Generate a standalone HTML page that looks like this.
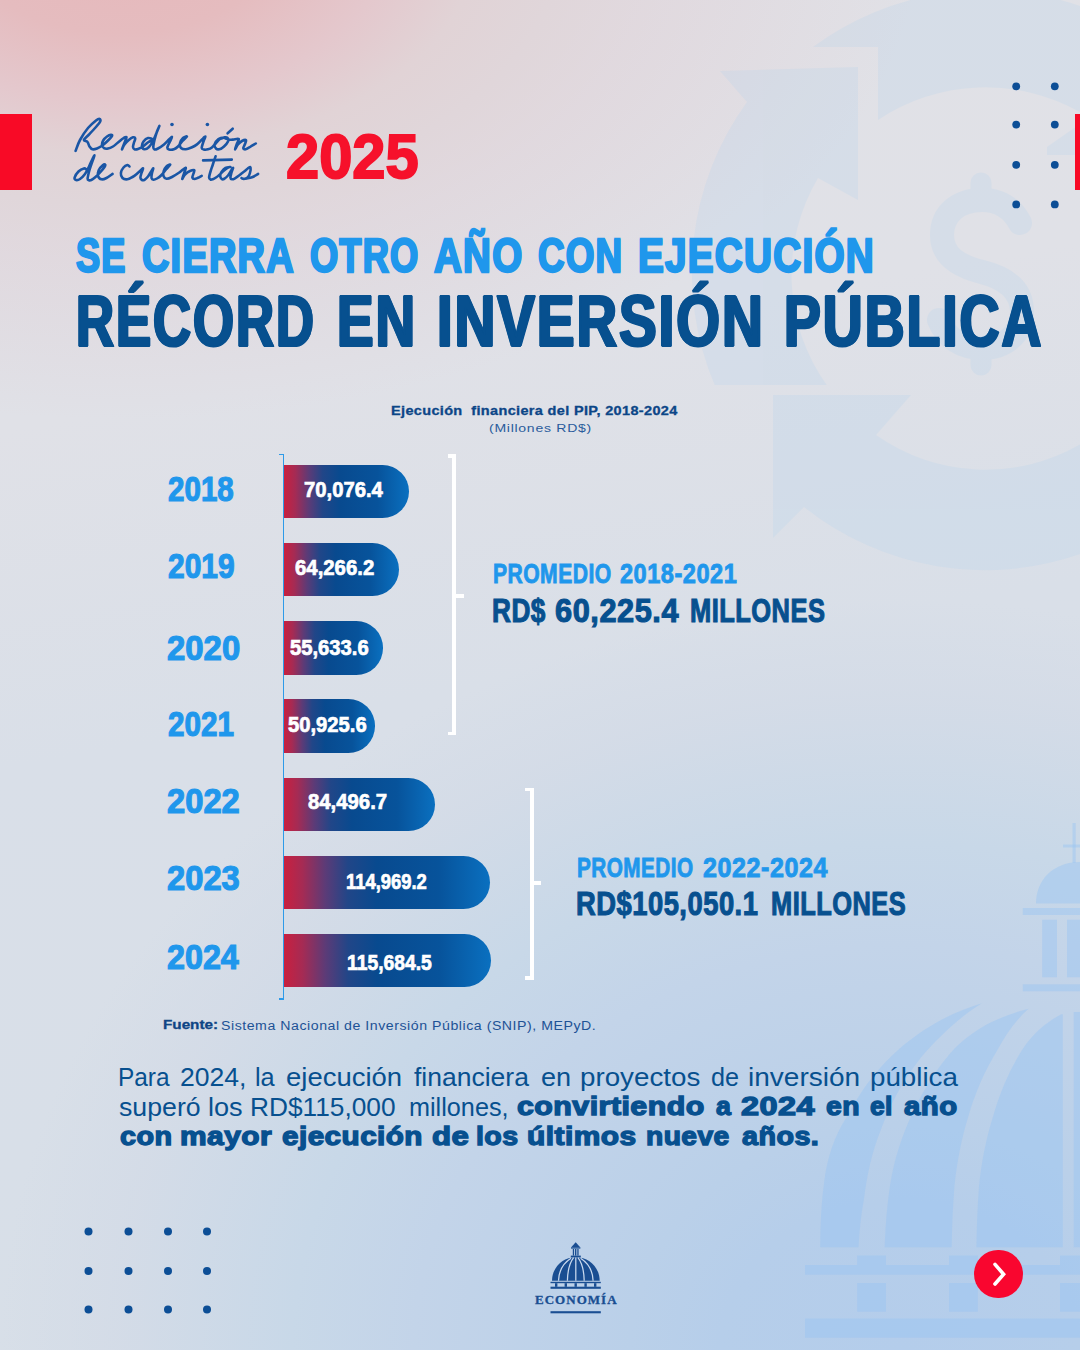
<!DOCTYPE html>
<html lang="es">
<head>
<meta charset="utf-8">
<title>Rendición de cuentas 2025</title>
<style>
html,body{margin:0;padding:0;font-family:"Liberation Sans",sans-serif;}
body{width:1080px;height:1350px;overflow:hidden;font-family:"Liberation Sans",sans-serif;}
#page{position:relative;width:1080px;height:1350px;overflow:hidden;
  background:
    radial-gradient(ellipse 800px 480px at 120px -60px, #e6b8bb 0%, #e5bcbf 19.5%, #e4c8cd 33.6%, #e1d3d6 44.6%, #e0d6da 55.1%, rgba(224,185,191,.2) 67.2%, rgba(224,185,191,.05) 91.7%, rgba(224,185,191,0) 100%),
    radial-gradient(ellipse 900px 750px at 900px 1350px, #b4cdeb 0%, #b6ceea 20%, #bad0e9 30%, #c3d4e9 54%, #c8d8e8 67.5%, rgba(211,219,231,.85) 87%, rgba(216,223,232,0) 100%),
    linear-gradient(170deg,#e1e1e6 0%,#e0e1e7 28%,#d9dfe8 50%,#d7dfe8 100%);
}
.t{position:absolute;white-space:pre;line-height:1;transform-origin:0 0;}
.bar{position:absolute;background:linear-gradient(90deg,#c9203f 0%,#a52b54 9%,#5c3b77 20%,#214688 31%,#084a8f 45%,#07539b 75%,#0a70c0 100%);}
.dot{position:absolute;width:8px;height:8px;border-radius:50%;background:#0d4c92;display:block;}
.red{position:absolute;background:#f80a26;}
.w{position:absolute;background:#fff;}
svg{position:absolute;left:0;top:0;}
</style>
</head>
<body>
<div id="page">

<!-- background watermarks -->
<svg width="1080" height="1350" viewBox="0 0 1080 1350">
  <!-- circular arrows + $ (top right) -->
  <g opacity=".16">
    <g fill="rgb(160,205,240)">
    <path d="M 714.7 385 A 290 290 0 0 1 747 102 L 720 71 L 858 67 L 858 200 L 818 178 A 190 190 0 0 0 826.7 385 Z"/>
    <path d="M 813 47 A 290 290 0 0 1 1080 6 L 1080 112 A 193 193 0 0 0 878 120 L 878 47 Z"/>
    <path d="M 1080 124 L 1047 147 L 1047 155 L 1080 155 Z"/>
    <path d="M 773 395 L 911 395 L 876 435 A 190 190 0 0 0 1080 444.5 L 1080 554 A 290 290 0 0 1 804 507 L 773 538 Z"/>
    </g>
    <g fill="none" stroke="rgb(160,205,240)" stroke-linecap="round" stroke-linejoin="round">
      <path d="M 1020 223 C 1012 208 999 200 982 200 C 958 200 942 214 942 235 C 942 256 958 266 982 272 C 1006 278 1022 290 1022 312 C 1022 334 1005 348 982 348 C 962 348 946 338 939 320" stroke-width="24"/>
    </g>
    <path d="M 981 183 L 981 200 M 981 348 L 981 365" fill="none" stroke="rgb(160,205,240)" stroke-width="21" stroke-linecap="round"/>
  </g>
  <!-- dome (bottom right) -->
  <g fill="rgba(150,196,242,.42)">
    <rect x="1072.5" y="823" width="3.2" height="40"/>
    <rect x="1063" y="844.5" width="17" height="3"/>
    <path d="M 1036 903.5 C 1036 880 1053 862 1080 862 L 1080 903.5 Z"/>
    <rect x="1022.8" y="908" width="57.2" height="7"/>
    <rect x="1042.2" y="919.7" width="14.8" height="57.6"/>
    <rect x="1067" y="919.7" width="13" height="57.6"/>
    <rect x="1022.8" y="984.3" width="57.2" height="7"/>
    <!-- main dome segments -->
    <path d="M 820.2 1247.3 C 820.5 1215 822 1195 825.6 1172 C 830 1148 838 1130 850 1111.6 C 864 1085 880 1066 899.6 1048.5 C 925 1027 950 1013 981.9 1003.3 C 958 1018 938 1038 921.6 1056.8 C 903 1080 890 1105 880.5 1130.8 C 872 1152 867 1175 864 1199 C 861 1215 859.5 1230 858.5 1247.3 Z"/>
    <path d="M 884.6 1247.3 C 885.5 1225 887 1205 890 1185.6 C 894 1160 902 1135 913.4 1111.6 C 924 1088 938 1067 954.5 1048.5 C 975 1028 1000 1016 1028.5 1008.8 C 1016 1020 1006 1034 998.3 1048.5 C 985 1070 975 1093 968.2 1117 C 961 1140 957 1163 954.5 1185.6 C 953 1205 952 1225 951.7 1247.3 Z"/>
    <path d="M 976.4 1247.3 C 976.8 1225 977.5 1205 979.1 1185.6 C 981.5 1162 986 1139 992.9 1117 C 1000 1092 1010 1069 1023 1048.5 C 1033 1034 1046 1022 1061.4 1014.3 L 1062.8 1014.3 L 1062.8 1247.3 Z"/>
    <rect x="1073.7" y="1012" width="6.3" height="235.3"/>
    <!-- base -->
    <rect x="857.2" y="1255.5" width="28.8" height="9.5"/>
    <rect x="949" y="1255.5" width="28.8" height="9.5"/>
    <rect x="1060" y="1255.5" width="20" height="9.5"/>
    <rect x="805" y="1265" width="275" height="9.7"/>
    <rect x="857.2" y="1283" width="28.8" height="28.7"/>
    <rect x="949" y="1283" width="28.8" height="28.7"/>
    <rect x="1060" y="1283" width="20" height="28.7"/>
    <rect x="805" y="1318.5" width="275" height="19.2"/>
  </g>
</svg>

<!-- red accents -->
<div class="red" style="left:0;top:114px;width:32px;height:76px"></div>
<div class="red" style="left:1075px;top:114px;width:5px;height:76px"></div>

<!-- axis -->
<div style="position:absolute;left:282.6px;top:453.5px;width:1.5px;height:546px;background:#2e9ae8"></div>
<div style="position:absolute;left:278.5px;top:453.5px;width:5px;height:1.3px;background:#2e9ae8"></div>
<div style="position:absolute;left:278.5px;top:998.3px;width:5px;height:1.3px;background:#2e9ae8"></div>

<div class="bar" style="left:284px;top:465.2px;width:125.3px;height:52.8px;border-radius:0 26.4px 26.4px 0"></div>
<div class="bar" style="left:284px;top:543.0px;width:115.0px;height:53.0px;border-radius:0 26.5px 26.5px 0"></div>
<div class="bar" style="left:284px;top:621.3px;width:98.6px;height:53.4px;border-radius:0 26.7px 26.7px 0"></div>
<div class="bar" style="left:284px;top:699.3px;width:90.6px;height:53.3px;border-radius:0 26.7px 26.7px 0"></div>
<div class="bar" style="left:284px;top:777.7px;width:151.0px;height:53.3px;border-radius:0 26.6px 26.6px 0"></div>
<div class="bar" style="left:284px;top:856.0px;width:206.0px;height:53.0px;border-radius:0 26.5px 26.5px 0"></div>
<div class="bar" style="left:284px;top:934.0px;width:207.0px;height:53.3px;border-radius:0 26.6px 26.6px 0"></div>

<!-- brackets -->
<div class="w" style="left:451.5px;top:454.2px;width:4px;height:281px"></div>
<div class="w" style="left:448px;top:454.2px;width:6px;height:3.6px"></div>
<div class="w" style="left:448px;top:731.6px;width:6px;height:3.6px"></div>
<div class="w" style="left:453px;top:594px;width:11px;height:4px"></div>

<div class="w" style="left:529.5px;top:787.5px;width:4px;height:192.5px"></div>
<div class="w" style="left:525px;top:787.5px;width:6px;height:3.6px"></div>
<div class="w" style="left:525px;top:976.4px;width:6px;height:3.6px"></div>
<div class="w" style="left:531px;top:880.8px;width:9.5px;height:4px"></div>

<svg width="1080" height="1350" viewBox="0 0 1080 1350"><g fill="none" stroke="#1a56a5" stroke-width="2.6" stroke-linecap="round" stroke-linejoin="round"><path d="M 75.6 150.9 C 76.3 149.1 77.9 143.8 80.0 140.0 C 82.1 136.2 85.3 131.2 88.0 128.0 C 90.7 124.8 94.1 122.0 96.0 120.5 C 97.9 119.0 98.9 118.7 99.6 118.9 C 100.3 119.1 100.8 120.2 100.2 121.5 C 99.6 122.8 97.9 124.8 96.0 127.0 C 94.1 129.2 91.0 132.4 89.0 134.5 C 87.0 136.6 84.2 138.6 83.9 139.8 C 83.7 141.1 86.6 140.9 87.5 142.0 C 88.4 143.1 88.7 145.3 89.5 146.5 C 90.3 147.7 91.2 149.0 92.5 149.3 C 93.8 149.6 95.2 149.2 97.0 148.5 C 98.8 147.8 101.1 146.4 103.0 145.0 C 104.9 143.6 107.0 141.5 108.5 140.0 C 110.0 138.5 111.6 136.9 112.0 136.0 C 112.4 135.1 111.8 134.7 111.0 134.8 C 110.2 134.9 108.3 135.6 107.0 136.5 C 105.7 137.4 104.0 139.1 103.2 140.5 C 102.4 141.9 101.9 143.7 102.0 145.0 C 102.1 146.3 103.0 147.6 104.0 148.2 C 105.0 148.8 106.5 148.9 108.0 148.6 C 109.5 148.3 111.3 147.5 113.0 146.5 C 114.7 145.5 116.3 143.8 118.0 142.5 C 119.7 141.2 121.6 139.4 123.0 138.5 C 124.4 137.6 126.2 136.7 126.5 137.2 C 126.8 137.7 125.8 139.5 125.0 141.5 C 124.2 143.5 122.1 148.8 122.0 149.3 C 121.9 149.8 123.4 146.0 124.5 144.5 C 125.6 143.0 127.1 141.5 128.5 140.3 C 129.9 139.1 131.9 137.6 133.0 137.3 C 134.1 137.0 135.0 137.6 135.2 138.5 C 135.4 139.4 134.4 141.1 134.0 142.5 C 133.6 143.9 132.9 145.9 133.0 147.0 C 133.1 148.1 133.7 149.0 134.5 149.3 C 135.3 149.6 136.6 149.5 138.0 149.0 C 139.4 148.5 141.2 147.7 143.0 146.5 C 144.8 145.3 146.8 143.2 148.5 142.0 C 150.2 140.8 153.1 140.2 153.0 139.5 C 152.9 138.8 149.6 137.7 148.0 138.0 C 146.4 138.3 144.5 140.1 143.5 141.5 C 142.5 142.9 141.8 145.2 142.0 146.5 C 142.2 147.8 143.3 149.2 144.5 149.3 C 145.7 149.4 147.6 148.4 149.0 147.0 C 150.4 145.6 151.8 143.3 153.0 141.0 C 154.2 138.7 155.4 135.5 156.5 133.0 C 157.6 130.5 159.3 126.2 159.4 125.9 C 159.5 125.7 157.8 129.2 157.0 131.5 C 156.2 133.8 155.1 137.4 154.5 140.0 C 153.9 142.6 153.3 145.4 153.3 147.0 C 153.3 148.6 153.7 149.2 154.5 149.5 C 155.3 149.8 156.4 149.3 158.0 148.5 C 159.6 147.7 162.2 146.0 164.0 144.5 C 165.8 143.0 167.7 140.8 169.0 139.5 C 170.3 138.2 171.8 136.7 172.0 137.0 C 172.2 137.3 170.8 139.8 170.0 141.5 C 169.2 143.2 167.6 145.9 167.4 147.2 C 167.2 148.5 167.9 149.2 169.0 149.5 C 170.1 149.8 172.4 149.8 173.9 149.3 C 175.4 148.8 176.6 147.9 178.0 146.5 C 179.4 145.1 181.0 142.7 182.5 141.0 C 184.0 139.3 186.8 137.0 186.9 136.5 C 187.0 136.0 184.2 136.8 183.0 138.0 C 181.8 139.2 180.2 141.8 179.9 143.5 C 179.6 145.2 180.0 147.0 181.0 148.0 C 182.0 149.0 184.2 149.4 185.9 149.3 C 187.7 149.2 189.7 148.3 191.5 147.5 C 193.3 146.7 195.3 145.7 197.0 144.4 C 198.7 143.2 200.1 141.3 201.5 140.0 C 202.9 138.7 205.1 136.2 205.4 136.5 C 205.7 136.8 204.1 139.6 203.5 141.5 C 202.9 143.4 201.6 146.7 201.7 148.0 C 201.8 149.3 202.9 149.4 204.0 149.6 C 205.1 149.8 206.7 149.7 208.0 149.3 C 209.3 149.0 210.6 148.6 211.9 147.5 C 213.2 146.4 214.7 144.4 216.0 143.0 C 217.3 141.6 218.7 139.9 220.0 139.0 C 221.3 138.1 224.2 137.5 223.9 137.5 C 223.7 137.5 220.1 137.8 218.5 139.0 C 216.9 140.2 215.0 142.8 214.6 144.4 C 214.2 146.0 215.2 147.7 216.0 148.5 C 216.8 149.3 218.0 149.6 219.3 149.3 C 220.6 149.0 222.6 147.8 224.0 146.5 C 225.4 145.2 227.4 142.9 228.0 141.5 C 228.6 140.1 228.2 138.7 227.5 138.0 C 226.8 137.3 223.7 137.2 223.9 137.5 C 224.2 137.8 227.5 139.2 229.0 139.5 C 230.5 139.8 231.4 139.7 233.0 139.6 C 234.6 139.5 238.0 138.2 238.7 138.9 C 239.4 139.6 237.6 141.8 237.0 143.5 C 236.4 145.2 234.8 149.1 235.0 149.3 C 235.2 149.5 236.8 145.9 238.0 144.5 C 239.2 143.1 240.7 141.7 242.0 141.0 C 243.3 140.3 245.5 139.7 246.0 140.2 C 246.5 140.7 245.4 142.7 245.0 144.0 C 244.6 145.3 243.2 147.1 243.3 148.0 C 243.4 148.9 244.4 149.5 245.5 149.3 C 246.6 149.1 248.3 148.0 250.0 147.0 C 251.7 146.0 254.8 144.1 255.8 143.5"/><path d="M 86.5 169.5 C 86.1 169.3 85.2 168.1 83.9 168.4 C 82.6 168.7 80.0 170.0 78.5 171.5 C 77.0 173.0 75.0 176.2 74.6 177.6 C 74.2 179.0 75.1 179.8 76.0 180.0 C 76.9 180.2 78.5 180.0 80.0 179.0 C 81.5 178.0 83.5 176.1 85.0 174.0 C 86.5 171.9 87.8 168.8 89.0 166.5 C 90.2 164.2 91.1 161.8 92.0 160.0 C 92.9 158.2 94.4 155.2 94.5 155.4 C 94.6 155.6 93.3 158.6 92.5 161.0 C 91.7 163.4 90.3 167.1 89.5 170.0 C 88.7 172.9 87.7 176.9 87.6 178.6 C 87.5 180.3 88.4 180.0 89.0 180.2 C 89.6 180.4 90.2 180.5 91.3 180.0 C 92.4 179.5 94.0 178.3 95.5 177.0 C 97.0 175.7 99.0 173.7 100.5 172.0 C 102.0 170.3 103.7 168.2 104.5 167.0 C 105.3 165.8 105.5 164.9 105.2 164.7 C 104.9 164.4 103.6 164.6 102.5 165.5 C 101.4 166.4 99.5 168.4 98.7 170.2 C 98.0 171.9 97.5 174.5 98.0 176.0 C 98.5 177.5 100.1 179.0 101.5 179.3 C 102.9 179.6 104.7 178.9 106.5 178.0 C 108.3 177.1 111.6 174.6 112.6 173.9"/><path d="M 129.5 166.5 C 129.2 166.3 128.4 164.9 127.4 165.1 C 126.4 165.3 124.6 166.2 123.5 167.5 C 122.4 168.8 121.1 171.2 120.9 173.0 C 120.7 174.8 121.4 176.9 122.5 178.0 C 123.6 179.1 125.7 179.5 127.4 179.3 C 129.1 179.1 130.9 177.9 132.5 177.0 C 134.1 176.1 135.4 175.0 136.7 173.9 C 138.0 172.8 139.4 171.4 140.5 170.5 C 141.6 169.6 142.9 168.0 143.1 168.4 C 143.3 168.8 141.9 171.5 141.5 173.0 C 141.1 174.5 140.3 176.4 140.4 177.6 C 140.5 178.8 141.3 179.6 142.0 180.0 C 142.7 180.4 143.5 180.4 144.5 179.8 C 145.5 179.2 146.8 178.0 148.0 176.5 C 149.2 175.0 150.6 172.3 151.5 171.0 C 152.4 169.7 153.2 168.1 153.3 168.4 C 153.4 168.7 152.3 171.4 152.0 173.0 C 151.7 174.6 151.2 176.9 151.5 178.0 C 151.8 179.1 152.6 179.7 153.5 179.8 C 154.4 179.9 155.8 179.2 157.0 178.5 C 158.2 177.8 159.5 177.0 161.0 175.5 C 162.5 174.0 164.5 171.3 166.0 169.5 C 167.5 167.7 170.1 165.2 170.2 164.7 C 170.3 164.2 167.6 165.4 166.5 166.5 C 165.4 167.6 164.2 169.5 163.7 171.1 C 163.2 172.7 163.0 174.7 163.5 176.0 C 164.0 177.3 165.1 178.6 166.5 178.8 C 167.9 179.0 170.0 178.0 172.0 177.0 C 174.0 176.0 176.7 174.2 178.5 173.0 C 180.3 171.8 181.8 170.3 183.0 169.5 C 184.2 168.7 185.7 167.5 185.9 167.9 C 186.2 168.3 185.1 170.2 184.5 172.0 C 183.9 173.8 182.1 178.6 182.2 179.0 C 182.3 179.4 183.7 175.8 185.0 174.5 C 186.3 173.2 188.4 171.7 190.0 171.0 C 191.6 170.3 193.7 169.8 194.3 170.2 C 194.9 170.6 193.8 172.3 193.5 173.5 C 193.2 174.7 192.2 176.7 192.4 177.6 C 192.6 178.5 193.6 179.0 194.5 179.0 C 195.4 179.0 196.8 178.3 198.0 177.8 C 199.2 177.3 201.1 176.1 201.7 175.8"/><path d="M 215.6 156.3 C 215.2 157.6 213.8 161.5 213.0 164.0 C 212.2 166.5 211.2 169.2 210.5 171.5 C 209.8 173.8 209.1 176.3 209.1 177.6 C 209.1 178.9 209.9 179.2 210.5 179.5 C 211.1 179.8 211.9 179.5 212.8 179.2 C 213.7 178.9 214.9 178.2 216.0 177.5 C 217.1 176.8 218.0 176.1 219.3 174.9 C 220.6 173.7 222.6 171.7 224.0 170.5 C 225.4 169.3 226.9 168.1 228.0 167.5 C 229.1 166.9 230.8 166.9 230.4 167.0 C 230.0 167.1 227.0 167.2 225.5 168.0 C 224.0 168.8 222.4 170.7 221.5 172.0 C 220.6 173.3 220.2 174.7 220.2 175.8 C 220.2 176.9 220.9 178.3 221.5 178.8 C 222.1 179.3 222.8 179.6 223.9 179.0 C 225.0 178.4 226.7 177.0 228.0 175.5 C 229.3 174.0 230.7 171.3 231.5 170.0 C 232.3 168.7 233.1 167.5 233.1 167.9 C 233.1 168.3 231.9 170.9 231.5 172.5 C 231.1 174.1 230.3 176.5 230.4 177.6 C 230.5 178.7 231.2 179.2 232.0 179.3 C 232.8 179.4 233.9 178.9 235.0 178.3 C 236.1 177.7 237.3 176.9 238.7 175.8 C 240.1 174.8 241.9 173.2 243.5 172.0 C 245.1 170.8 246.9 169.1 248.0 168.3 C 249.1 167.5 249.9 166.7 250.3 167.0 C 250.7 167.3 250.7 168.8 250.6 170.0 C 250.5 171.2 249.9 172.9 249.6 174.0 C 249.3 175.1 249.1 175.6 248.6 176.3 C 248.1 177.0 247.3 177.9 246.5 178.3 C 245.7 178.7 244.3 178.9 243.5 178.9 C 242.7 178.9 241.8 178.2 241.5 178.1"/><path d="M 246.5 178.3 C 247.4 178.1 250.1 178.0 252.0 177.3 C 253.9 176.6 257.1 174.5 258.1 173.9"/><path d="M 203.1 160.4 L 231.8 159.6"/><path d="M 227.6 133.3 L 232.7 128.7"/></g><circle cx="172" cy="124.5" r="1.8" fill="#1a56a5"/><circle cx="207.4" cy="124.5" r="1.8" fill="#1a56a5"/></svg>
<div class="t" style="left:285.65px;top:124.80px;font-size:62.85px;font-weight:700;color:#f6112b;transform:scaleX(0.9478);-webkit-text-stroke:2px #f6112b;">2025</div>
<div class="t" style="left:76.10px;top:231.13px;font-size:48.69px;font-weight:700;color:#1f97ec;transform:scaleX(0.7409);letter-spacing:1.6px;-webkit-text-stroke:2.3px #1f97ec;text-shadow:0.95px 0 0 #1f97ec,-0.95px 0 0 #1f97ec;">SE</div>
<div class="t" style="left:142.32px;top:231.13px;font-size:48.69px;font-weight:700;color:#1f97ec;transform:scaleX(0.7784);letter-spacing:1.6px;-webkit-text-stroke:2.3px #1f97ec;text-shadow:0.95px 0 0 #1f97ec,-0.95px 0 0 #1f97ec;">CIERRA</div>
<div class="t" style="left:309.96px;top:231.13px;font-size:48.69px;font-weight:700;color:#1f97ec;transform:scaleX(0.7438);letter-spacing:1.6px;-webkit-text-stroke:2.3px #1f97ec;text-shadow:0.95px 0 0 #1f97ec,-0.95px 0 0 #1f97ec;">OTRO</div>
<div class="t" style="left:434.40px;top:231.13px;font-size:48.69px;font-weight:700;color:#1f97ec;transform:scaleX(0.7910);letter-spacing:1.6px;-webkit-text-stroke:2.3px #1f97ec;text-shadow:0.95px 0 0 #1f97ec,-0.95px 0 0 #1f97ec;">AÑO</div>
<div class="t" style="left:538.15px;top:231.13px;font-size:48.69px;font-weight:700;color:#1f97ec;transform:scaleX(0.7546);letter-spacing:1.6px;-webkit-text-stroke:2.3px #1f97ec;text-shadow:0.95px 0 0 #1f97ec,-0.95px 0 0 #1f97ec;">CON</div>
<div class="t" style="left:638.41px;top:231.13px;font-size:48.69px;font-weight:700;color:#1f97ec;transform:scaleX(0.7939);letter-spacing:1.6px;-webkit-text-stroke:2.3px #1f97ec;text-shadow:0.95px 0 0 #1f97ec,-0.95px 0 0 #1f97ec;">EJECUCIÓN</div>
<div class="t" style="left:75.58px;top:286.09px;font-size:71.37px;font-weight:700;color:#07508f;transform:scaleX(0.7384);letter-spacing:2.6px;-webkit-text-stroke:2.2px #07508f;text-shadow:1.65px 0 0 #07508f,-1.65px 0 0 #07508f;">RÉCORD</div>
<div class="t" style="left:336.60px;top:286.09px;font-size:71.37px;font-weight:700;color:#07508f;transform:scaleX(0.7677);letter-spacing:2.6px;-webkit-text-stroke:2.2px #07508f;text-shadow:1.65px 0 0 #07508f,-1.65px 0 0 #07508f;">EN</div>
<div class="t" style="left:436.94px;top:286.09px;font-size:71.37px;font-weight:700;color:#07508f;transform:scaleX(0.7880);letter-spacing:2.6px;-webkit-text-stroke:2.2px #07508f;text-shadow:1.65px 0 0 #07508f,-1.65px 0 0 #07508f;">INVERSIÓN</div>
<div class="t" style="left:783.98px;top:286.09px;font-size:71.37px;font-weight:700;color:#07508f;transform:scaleX(0.7733);letter-spacing:2.6px;-webkit-text-stroke:2.2px #07508f;text-shadow:1.65px 0 0 #07508f,-1.65px 0 0 #07508f;">PÚBLICA</div>
<div class="t" style="left:390.83px;top:404.90px;font-size:12.35px;font-weight:700;color:#0c4687;transform:scaleX(1.1728);letter-spacing:0.3px;-webkit-text-stroke:0.3px #0c4687;">Ejecución  financiera del PIP, 2018-2024</div>
<div class="t" style="left:488.59px;top:421.86px;font-size:11.63px;font-weight:400;color:#2a5c9c;transform:scaleX(1.2072);letter-spacing:0.6px;">(Millones RD$)</div>
<div class="t" style="left:167.56px;top:470.65px;font-size:35.03px;font-weight:700;color:#1f97ec;transform:scaleX(0.8442);-webkit-text-stroke:1.2px #1f97ec;">2018</div>
<div class="t" style="left:167.54px;top:548.35px;font-size:35.03px;font-weight:700;color:#1f97ec;transform:scaleX(0.8553);-webkit-text-stroke:1.2px #1f97ec;">2019</div>
<div class="t" style="left:167.46px;top:629.85px;font-size:35.03px;font-weight:700;color:#1f97ec;transform:scaleX(0.9395);-webkit-text-stroke:1.2px #1f97ec;">2020</div>
<div class="t" style="left:167.55px;top:706.25px;font-size:35.03px;font-weight:700;color:#1f97ec;transform:scaleX(0.8468);-webkit-text-stroke:1.2px #1f97ec;">2021</div>
<div class="t" style="left:167.37px;top:783.15px;font-size:35.03px;font-weight:700;color:#1f97ec;transform:scaleX(0.9342);-webkit-text-stroke:1.2px #1f97ec;">2022</div>
<div class="t" style="left:167.37px;top:859.95px;font-size:35.03px;font-weight:700;color:#1f97ec;transform:scaleX(0.9342);-webkit-text-stroke:1.2px #1f97ec;">2023</div>
<div class="t" style="left:167.38px;top:939.25px;font-size:35.03px;font-weight:700;color:#1f97ec;transform:scaleX(0.9221);-webkit-text-stroke:1.2px #1f97ec;">2024</div>
<div class="t" style="left:303.96px;top:479.36px;font-size:21.61px;font-weight:700;color:#ffffff;transform:scaleX(0.9373);-webkit-text-stroke:0.7px #ffffff;">70,076.4</div>
<div class="t" style="left:295.20px;top:556.96px;font-size:21.61px;font-weight:700;color:#ffffff;transform:scaleX(0.9417);-webkit-text-stroke:0.7px #ffffff;">64,266.2</div>
<div class="t" style="left:289.90px;top:636.96px;font-size:21.61px;font-weight:700;color:#ffffff;transform:scaleX(0.9345);-webkit-text-stroke:0.7px #ffffff;">55,633.6</div>
<div class="t" style="left:287.80px;top:713.96px;font-size:21.61px;font-weight:700;color:#ffffff;transform:scaleX(0.9345);-webkit-text-stroke:0.7px #ffffff;">50,925.6</div>
<div class="t" style="left:307.70px;top:790.56px;font-size:21.61px;font-weight:700;color:#ffffff;transform:scaleX(0.9405);-webkit-text-stroke:0.7px #ffffff;">84,496.7</div>
<div class="t" style="left:345.85px;top:870.56px;font-size:21.61px;font-weight:700;color:#ffffff;transform:scaleX(0.8511);-webkit-text-stroke:0.7px #ffffff;">114,969.2</div>
<div class="t" style="left:347.41px;top:951.56px;font-size:21.61px;font-weight:700;color:#ffffff;transform:scaleX(0.8936);-webkit-text-stroke:0.7px #ffffff;">115,684.5</div>
<div class="t" style="left:492.93px;top:559.92px;font-size:27.33px;font-weight:700;color:#1f97ec;transform:scaleX(0.7722);letter-spacing:0.6px;-webkit-text-stroke:0.9px #1f97ec;">PROMEDIO</div>
<div class="t" style="left:620.30px;top:559.92px;font-size:27.33px;font-weight:700;color:#1f97ec;transform:scaleX(0.8622);letter-spacing:0.6px;-webkit-text-stroke:0.9px #1f97ec;">2018-2021</div>
<div class="t" style="left:492.11px;top:594.12px;font-size:32.99px;font-weight:700;color:#07508f;transform:scaleX(0.7938);letter-spacing:0.6px;-webkit-text-stroke:1.1px #07508f;">RD$</div>
<div class="t" style="left:555.37px;top:594.12px;font-size:32.99px;font-weight:700;color:#07508f;transform:scaleX(0.9318);letter-spacing:0.6px;-webkit-text-stroke:1.1px #07508f;">60,225.4</div>
<div class="t" style="left:690.35px;top:594.12px;font-size:32.99px;font-weight:700;color:#07508f;transform:scaleX(0.7727);letter-spacing:0.6px;-webkit-text-stroke:1.1px #07508f;">MILLONES</div>
<div class="t" style="left:577.24px;top:853.72px;font-size:27.33px;font-weight:700;color:#1f97ec;transform:scaleX(0.7583);letter-spacing:0.6px;-webkit-text-stroke:0.9px #1f97ec;">PROMEDIO</div>
<div class="t" style="left:703.00px;top:853.72px;font-size:27.33px;font-weight:700;color:#1f97ec;transform:scaleX(0.9176);letter-spacing:0.6px;-webkit-text-stroke:0.9px #1f97ec;">2022-2024</div>
<div class="t" style="left:576.34px;top:887.12px;font-size:32.99px;font-weight:700;color:#07508f;transform:scaleX(0.8295);letter-spacing:0.6px;-webkit-text-stroke:1.1px #07508f;">RD$105,050.1</div>
<div class="t" style="left:770.66px;top:887.12px;font-size:32.99px;font-weight:700;color:#07508f;transform:scaleX(0.7709);letter-spacing:0.6px;-webkit-text-stroke:1.1px #07508f;">MILLONES</div>
<div class="t" style="left:163.01px;top:1019.42px;font-size:12.79px;font-weight:700;color:#0f4585;transform:scaleX(1.1932);-webkit-text-stroke:0.3px #0f4585;">Fuente:</div>
<div class="t" style="left:220.93px;top:1019.20px;font-size:13.23px;font-weight:400;color:#1d5296;transform:scaleX(1.0701);letter-spacing:0.5px;">Sistema Nacional de Inversión Pública (SNIP), MEPyD.</div>
<div class="t" style="left:118.09px;top:1065.03px;font-size:25.6px;font-weight:400;color:#07508f;transform:scaleX(0.9538);">Para</div>
<div class="t" style="left:180.06px;top:1065.03px;font-size:25.6px;font-weight:400;color:#07508f;transform:scaleX(1.0377);">2024,</div>
<div class="t" style="left:255.12px;top:1065.03px;font-size:25.6px;font-weight:400;color:#07508f;transform:scaleX(0.9889);">la</div>
<div class="t" style="left:286.23px;top:1065.03px;font-size:25.6px;font-weight:400;color:#07508f;transform:scaleX(1.0736);">ejecución</div>
<div class="t" style="left:414.40px;top:1065.03px;font-size:25.6px;font-weight:400;color:#07508f;transform:scaleX(1.0351);">financiera</div>
<div class="t" style="left:540.74px;top:1065.03px;font-size:25.6px;font-weight:400;color:#07508f;transform:scaleX(1.0577);">en</div>
<div class="t" style="left:579.63px;top:1065.03px;font-size:25.6px;font-weight:400;color:#07508f;transform:scaleX(1.0843);">proyectos</div>
<div class="t" style="left:711.22px;top:1065.03px;font-size:25.6px;font-weight:400;color:#07508f;transform:scaleX(0.9846);">de</div>
<div class="t" style="left:748.31px;top:1065.03px;font-size:25.6px;font-weight:400;color:#07508f;transform:scaleX(1.0949);">inversión</div>
<div class="t" style="left:870.03px;top:1065.03px;font-size:25.6px;font-weight:400;color:#07508f;transform:scaleX(1.0835);">pública</div>
<div class="t" style="left:118.96px;top:1094.53px;font-size:25.6px;font-weight:400;color:#07508f;transform:scaleX(1.0434);">superó</div>
<div class="t" style="left:208.28px;top:1094.53px;font-size:25.6px;font-weight:400;color:#07508f;transform:scaleX(1.0600);">los</div>
<div class="t" style="left:249.75px;top:1094.53px;font-size:25.6px;font-weight:400;color:#07508f;transform:scaleX(1.0259);">RD$115,000</div>
<div class="t" style="left:409.13px;top:1094.53px;font-size:25.6px;font-weight:400;color:#07508f;transform:scaleX(0.9856);">millones,</div>
<div class="t" style="left:517.30px;top:1093.64px;font-size:25.85px;font-weight:700;color:#07508f;transform:scaleX(1.1742);letter-spacing:0.4px;-webkit-text-stroke:1.35px #07508f;">convirtiendo</div>
<div class="t" style="left:715.60px;top:1093.64px;font-size:25.85px;font-weight:700;color:#07508f;transform:scaleX(1.0333);letter-spacing:0.4px;-webkit-text-stroke:1.35px #07508f;">a</div>
<div class="t" style="left:740.50px;top:1093.64px;font-size:25.85px;font-weight:700;color:#07508f;transform:scaleX(1.2525);letter-spacing:0.4px;-webkit-text-stroke:1.35px #07508f;">2024</div>
<div class="t" style="left:826.00px;top:1093.64px;font-size:25.85px;font-weight:700;color:#07508f;transform:scaleX(1.0967);letter-spacing:0.4px;-webkit-text-stroke:1.35px #07508f;">en</div>
<div class="t" style="left:869.60px;top:1093.64px;font-size:25.85px;font-weight:700;color:#07508f;transform:scaleX(1.0238);letter-spacing:0.4px;-webkit-text-stroke:1.35px #07508f;">el</div>
<div class="t" style="left:904.40px;top:1093.64px;font-size:25.85px;font-weight:700;color:#07508f;transform:scaleX(1.1362);letter-spacing:0.4px;-webkit-text-stroke:1.35px #07508f;">año</div>
<div class="t" style="left:120.00px;top:1124.44px;font-size:25.85px;font-weight:700;color:#07508f;transform:scaleX(1.1130);letter-spacing:0.4px;-webkit-text-stroke:1.35px #07508f;">con</div>
<div class="t" style="left:180.04px;top:1124.44px;font-size:25.85px;font-weight:700;color:#07508f;transform:scaleX(1.1577);letter-spacing:0.4px;-webkit-text-stroke:1.35px #07508f;">mayor</div>
<div class="t" style="left:282.20px;top:1124.44px;font-size:25.85px;font-weight:700;color:#07508f;transform:scaleX(1.1475);letter-spacing:0.4px;-webkit-text-stroke:1.35px #07508f;">ejecución</div>
<div class="t" style="left:432.20px;top:1124.44px;font-size:25.85px;font-weight:700;color:#07508f;transform:scaleX(1.2067);letter-spacing:0.4px;-webkit-text-stroke:1.35px #07508f;">de</div>
<div class="t" style="left:476.40px;top:1124.44px;font-size:25.85px;font-weight:700;color:#07508f;transform:scaleX(1.1027);letter-spacing:0.4px;-webkit-text-stroke:1.35px #07508f;">los</div>
<div class="t" style="left:526.84px;top:1124.44px;font-size:25.85px;font-weight:700;color:#07508f;transform:scaleX(1.1570);letter-spacing:0.4px;-webkit-text-stroke:1.35px #07508f;">últimos</div>
<div class="t" style="left:646.41px;top:1124.44px;font-size:25.85px;font-weight:700;color:#07508f;transform:scaleX(1.0920);letter-spacing:0.4px;-webkit-text-stroke:1.35px #07508f;">nueve</div>
<div class="t" style="left:742.20px;top:1124.44px;font-size:25.85px;font-weight:700;color:#07508f;transform:scaleX(1.1118);letter-spacing:0.4px;-webkit-text-stroke:1.35px #07508f;">años.</div>
<div class="t" style="left:534.70px;top:1294.00px;font-size:12.6px;font-weight:700;color:#1a4e92;transform:scaleX(1.0316);font-family:'Liberation Serif',serif;letter-spacing:1.0px;-webkit-text-stroke:0.3px #1a4e92;">ECONOMÍA</div>

<svg width="1080" height="1350" viewBox="0 0 1080 1350"><g fill="#0c4e96"><circle cx="88.5" cy="1231.5" r="4"/><circle cx="88.5" cy="1271" r="4"/><circle cx="88.5" cy="1309.5" r="4"/><circle cx="128.5" cy="1231.5" r="4"/><circle cx="128.5" cy="1271" r="4"/><circle cx="128.5" cy="1309.5" r="4"/><circle cx="168" cy="1231.5" r="4"/><circle cx="168" cy="1271" r="4"/><circle cx="168" cy="1309.5" r="4"/><circle cx="207" cy="1231.5" r="4"/><circle cx="207" cy="1271" r="4"/><circle cx="207" cy="1309.5" r="4"/><circle cx="1016.2" cy="86.3" r="3.9"/><circle cx="1016.2" cy="124.6" r="3.9"/><circle cx="1016.2" cy="164.8" r="3.9"/><circle cx="1016.2" cy="204.4" r="3.9"/><circle cx="1054.8" cy="86.3" r="3.9"/><circle cx="1054.8" cy="124.6" r="3.9"/><circle cx="1054.8" cy="164.8" r="3.9"/><circle cx="1054.8" cy="204.4" r="3.9"/></g></svg>

<!-- logo -->
<svg width="1080" height="1350" viewBox="0 0 1080 1350">
  <g fill="#1a4e92">
    <path d="M 575.7 1242.3 L 580.4 1247.6 L 571 1247.6 Z"/>
    <rect x="571" y="1247.4" width="9.4" height="1.2"/>
    <rect x="572.8" y="1249" width="1.3" height="6.6"/>
    <rect x="575" y="1249" width="1.4" height="6.6"/>
    <rect x="577.3" y="1249" width="1.3" height="6.6"/>
    <rect x="570.8" y="1255.6" width="10" height="1.6"/>
    <path d="M 552 1280.8 C 552 1267.5 562.5 1257.2 575.8 1257.2 C 589.1 1257.2 599.7 1267.5 599.7 1280.8 Z"/>
    <rect x="550.5" y="1281.8" width="50.3" height="1.4"/>
    <rect x="555" y="1283.2" width="2.4" height="3.6"/>
    <rect x="564.6" y="1283.2" width="2.4" height="3.6"/>
    <rect x="574.5" y="1283.2" width="2.4" height="3.6"/>
    <rect x="584.4" y="1283.2" width="2.4" height="3.6"/>
    <rect x="594" y="1283.2" width="2.4" height="3.6"/>
    <rect x="550.5" y="1286.7" width="50.3" height="2.1"/>
    <rect x="550.5" y="1311.2" width="50.3" height="2.1"/>
  </g>
  <g fill="none" stroke="#c9d9ee" stroke-width="1.25">
    <path d="M 575.8 1257.5 L 575.8 1280.8"/>
    <path d="M 573.6 1257.6 C 569.5 1263 567.6 1271 567.4 1280.8"/>
    <path d="M 578 1257.6 C 582.1 1263 584 1271 584.2 1280.8"/>
    <path d="M 571 1258.2 C 563.5 1263 558.8 1271 558.5 1280.8"/>
    <path d="M 580.6 1258.2 C 588.1 1263 592.8 1271 593.1 1280.8"/>
  </g>
</svg>

<!-- next button -->
<div style="position:absolute;left:974.1px;top:1249.6px;width:48.8px;height:48.8px;border-radius:50%;background:#f9062f"></div>
<svg width="1080" height="1350" viewBox="0 0 1080 1350">
  <path d="M 995 1264.4 L 1003.6 1274.2 L 995 1284" fill="none" stroke="#fff" stroke-width="3.6" stroke-linecap="round" stroke-linejoin="miter"/>
</svg>

</div>
</body>
</html>
